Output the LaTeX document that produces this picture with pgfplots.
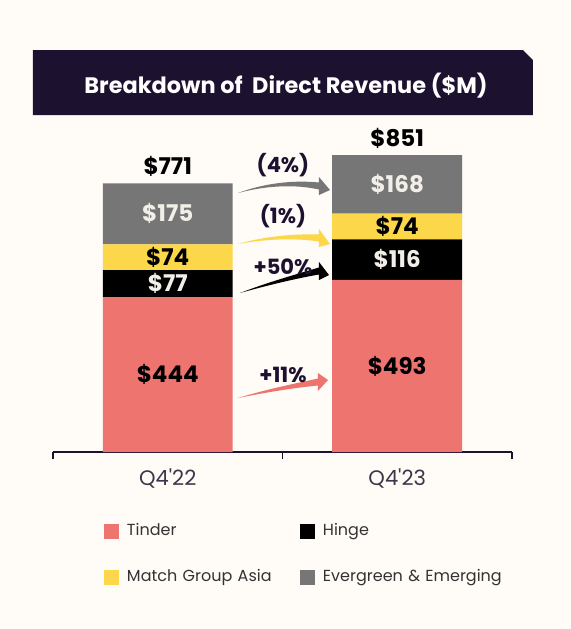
\documentclass[border=0pt]{standalone}
\usepackage{pgfplots}
\pgfplotsset{compat=1.18}
\usepackage{fontspec}
\setmainfont{Poppins}
\newfontfamily\tickfont{Poppins}[Ligatures=TeXOff]
\usetikzlibrary{calc}
\definecolor{bgc}{HTML}{FFFBF7}
\definecolor{navy}{HTML}{1C1230}
\definecolor{tindercol}{HTML}{EE7470}
\definecolor{mgacol}{HTML}{FCD74A}
\definecolor{evgcol}{HTML}{767676}
\definecolor{hingecol}{HTML}{000000}
\definecolor{lblcol}{HTML}{F2EFE8}
\definecolor{ticktxt}{HTML}{3A3848}
\definecolor{legtxt}{HTML}{333333}

% tapered curved arrow in px coordinates: color, tail, head-base centre, tip, bulge
\newcommand{\tarrow}[5]{%
  \fill[#1] (#2) .. controls ($(#2)!0.35!(#3)+(0,-#5)$) and ($(#2)!0.7!(#3)+(0,-#5)$) ..
    ($(#3)+(0,-3.5)$) -- ($(#3)+(0,-9)$) -- (#4) -- ($(#3)+(0,9)$) -- ($(#3)+(0,3.5)$)
    .. controls ($(#2)!0.7!(#3)+(0,-#5+4)$) and ($(#2)!0.35!(#3)+(0,-#5+3)$) .. cycle;}

\begin{document}
\begin{tikzpicture}
\fill[bgc] (0,0) rectangle (285.5pt,314.5pt);
\useasboundingbox (0,0) rectangle (285.5pt,314.5pt);

\begin{axis}[
  at={(26.5pt,88.5pt)}, anchor=south west,
  scale only axis, width=229.5pt, height=157.05pt,
  xmin=-0.5, xmax=1.5, ymin=0, ymax=900,
  ybar stacked, bar width=65pt,
  axis x line*=bottom, axis y line=none,
  x axis line style={-, draw=navy, line width=0.8pt},
  xtick={0,1}, xticklabels={Q4'22,Q4'23},
  major tick length=0pt,
  tick style={draw=navy, line width=0.8pt},
  extra x ticks={-0.5,0.5,1.5},
  extra x tick style={major tick length=3.5pt, tick align=outside, xticklabel=\empty},
  xticklabel style={font=\tickfont\fontsize{10.5}{12}\selectfont, text=ticktxt, yshift=-5pt},
  clip=false,
  legend columns=2,
  legend image code/.code={\fill (0pt,-3.75pt) rectangle (7.5pt,3.75pt);},
  legend style={draw=none, fill=none, inner sep=0pt, outer sep=0pt,
    at={(axis description cs:0.1111,-0.2261)}, anchor=north west,
    row sep=15pt,
    nodes={inner sep=0pt, text width=86.5pt, align=left, text height=6pt, text depth=2pt,
      font=\fontsize{8}{10}\selectfont, text=legtxt},
    /tikz/every odd column/.append style={column sep=4pt}},
]
\addplot[fill=tindercol, draw=none] coordinates {(0,444) (1,493)};
\addlegendentry{Tinder}
\addplot[fill=hingecol, draw=none] coordinates {(0,77) (1,116)};
\addlegendentry{Hinge}
\addplot[fill=mgacol, draw=none] coordinates {(0,74) (1,74)};
\addlegendentry{Match Group Asia}
\addplot[fill=evgcol, draw=none] coordinates {(0,175) (1,168)};
\addlegendentry{\mbox{Evergreen \& Emerging}}

\coordinate (a1) at (axis cs:0,222);
\coordinate (a2) at (axis cs:0,482.5);
\coordinate (a3) at (axis cs:0,558);
\coordinate (a4) at (axis cs:0,682.5);
\coordinate (b1) at (axis cs:1,246.5);
\coordinate (b2) at (axis cs:1,551);
\coordinate (b3) at (axis cs:1,646);
\coordinate (b4) at (axis cs:1,767);
\coordinate (at) at (axis cs:0,771);
\coordinate (bt) at (axis cs:1,851);
\end{axis}

\begin{scope}[every node/.style={font=\fontsize{11.5}{13}\selectfont\bfseries}]
\node[text=black] at (a1) {\$444};
\node[text=lblcol] at (a2) {\$77};
\node[text=black] at (a3) {\$74};
\node[text=lblcol] at (a4) {\$175};
\node[text=black] at (b1) {\$493};
\node[text=lblcol] at (b2) {\$116};
\node[text=black] at (b3) {\$74};
\node[text=lblcol] at (b4) {\$168};
\node[text=black, anchor=south, inner sep=0pt, yshift=3pt] at (at) {\$771};
\node[text=black, anchor=south, inner sep=0pt, yshift=3pt] at (bt) {\$851};
\end{scope}

\begin{scope}[shift={(0,314.5pt)}, x=0.5pt, y=-0.5pt]
  \fill[navy] (33,50) -- (523,50) -- (533,60) -- (533,115) -- (33,115) -- cycle;
  \node[text=white, font=\fontsize{11.2}{13}\selectfont\bfseries] at (286,86) {Breakdown of\ \ Direct Revenue (\$M)};
  \tarrow{evgcol}{238,193}{319,186}{330,190}{8}
  \tarrow{mgacol}{238,244}{319,238}{330,244}{6}
  \tarrow{hingecol}{240,293}{319,271}{329,275}{3}
  \tarrow{tindercol}{238,398}{318,382}{328,380}{3}
  \node[text=navy, font=\fontsize{10.5}{12}\selectfont\bfseries] at (283,165) {(4\%)};
  \node[text=navy, font=\fontsize{10.5}{12}\selectfont\bfseries] at (283,216) {(1\%)};
  \node[text=navy, font=\fontsize{10.5}{12}\selectfont\bfseries] at (283,267) {+50\%};
  \node[text=navy, font=\fontsize{10.5}{12}\selectfont\bfseries] at (283,375) {+11\%};
\end{scope}
\end{tikzpicture}
\end{document}
